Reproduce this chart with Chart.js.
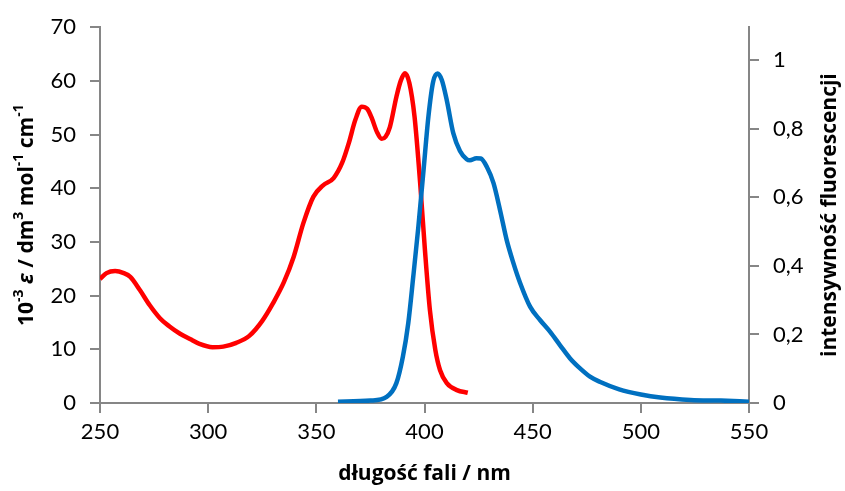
<!DOCTYPE html>
<html>
<head>
<meta charset="utf-8">
<script src="https://cdn.jsdelivr.net/npm/chart.js@4.4.1/dist/chart.umd.min.js"></script>
<style>
  body { margin: 0; background: #fff; }
  #wrap { width: 845px; height: 491px; }
</style>
</head>
<body>
<div id="wrap"><canvas id="chart" width="845" height="491"></canvas></div>
<script>
// absorption (left axis, 10^-3 eps)
const absWavelength = [250, 253, 257, 261, 264, 268.5, 273, 277.7, 282, 287, 291.6, 296, 302, 307, 313, 319, 325, 330, 335, 339.5, 344, 348.6, 353, 358, 362, 365, 368, 371, 373.5, 375.6, 378, 380.2, 382, 384, 387, 389, 391, 393, 395.4, 398, 400.2, 402.5, 405, 407.2, 410.3, 415, 420];
const absValues = [23.1, 24.2, 24.6, 24.2, 23.5, 21.0, 18.2, 15.8, 14.3, 12.9, 11.9, 11.0, 10.4, 10.5, 11.2, 12.5, 15.3, 18.6, 22.5, 27.2, 33.5, 38.4, 40.5, 41.9, 44.8, 48.4, 52.7, 55.2, 54.8, 53.1, 50.5, 49.2, 49.6, 51.4, 57.0, 60.0, 61.4, 59.6, 53.3, 40.9, 28.5, 17.3, 9.9, 6.1, 3.7, 2.4, 1.9];

// fluorescence (right axis, normalised)
const emWavelength = [360, 375, 382.5, 387, 390, 392.5, 394.8, 397.1, 399.5, 401.8, 404, 406, 408, 410.3, 413.3, 416.4, 419.5, 421, 424, 426, 428.8, 431.9, 434.9, 438, 441.1, 444.2, 448.8, 453.4, 458, 462.6, 467.3, 471.9, 476.5, 481, 490, 500, 509, 523, 537, 550];
const emValues = [0.004, 0.007, 0.018, 0.058, 0.135, 0.233, 0.368, 0.51, 0.675, 0.835, 0.937, 0.961, 0.942, 0.883, 0.787, 0.735, 0.711, 0.708, 0.714, 0.713, 0.689, 0.641, 0.563, 0.475, 0.408, 0.35, 0.281, 0.242, 0.208, 0.169, 0.130, 0.101, 0.077, 0.062, 0.040, 0.025, 0.016, 0.009, 0.007, 0.004];

const xTicks = [250, 300, 350, 400, 450, 500, 550];
const leftTicks = [0, 10, 20, 30, 40, 50, 60, 70];
const rightTicks = [0, 0.2, 0.4, 0.6, 0.8, 1];

const FONT = 'Lato, "Open Sans", sans-serif';
const TITLE_FONT = '"Open Sans", Lato, sans-serif';
const AXIS = '#868686';

function toPoints(xs, ys) {
    return xs.map((x, i) => ({ x: x, y: ys[i] }));
}

// rotated axis titles with superscripts / italic epsilon
function drawRich(ctx, parts, cx, cy) {
    ctx.save();
    ctx.translate(cx, cy);
    ctx.rotate(-Math.PI / 2);
    ctx.fillStyle = '#000';
    ctx.textBaseline = 'middle';
    ctx.textAlign = 'left';
    let total = 0;
    parts.forEach(p => {
        ctx.font = (p.italic ? 'italic ' : '') + 'bold ' + p.size + 'px ' + TITLE_FONT;
        p.w = ctx.measureText(p.t).width;
        total += p.w;
    });
    let x = -total / 2;
    parts.forEach(p => {
        ctx.font = (p.italic ? 'italic ' : '') + 'bold ' + p.size + 'px ' + TITLE_FONT;
        ctx.fillText(p.t, x, p.raise ? -p.raise : 0);
        x += p.w;
    });
    ctx.restore();
}

const titlePlugin = {
    id: 'axisTitles',
    afterDraw(chart) {
        const ctx = chart.ctx;
        const cy = (chart.chartArea.top + chart.chartArea.bottom) / 2;
        drawRich(ctx, [
            { t: '10', size: 21 },
            { t: '-3', size: 14, raise: 8 },
            { t: ' ', size: 21 },
            { t: 'ε', size: 21, italic: true },
            { t: ' / dm', size: 21 },
            { t: '3', size: 14, raise: 8 },
            { t: ' mol', size: 21 },
            { t: '-1', size: 14, raise: 8 },
            { t: ' cm', size: 21 },
            { t: '-1', size: 14, raise: 8 }
        ], 27, cy);
        drawRich(ctx, [{ t: 'intensywność fluorescencji', size: 21 }], 830, cy);
    }
};

new Chart(document.getElementById('chart').getContext('2d'), {
    type: 'line',
    data: {
        datasets: [{
            label: 'absorpcja',
            data: toPoints(absWavelength, absValues),
            yAxisID: 'y',
            borderColor: '#FF0000',
            borderWidth: 4.5,
            pointRadius: 0,
            cubicInterpolationMode: 'monotone',
            fill: false,
            order: 1
        }, {
            label: 'fluorescencja',
            data: toPoints(emWavelength, emValues),
            yAxisID: 'y1',
            borderColor: '#0070C0',
            borderWidth: 4.5,
            pointRadius: 0,
            cubicInterpolationMode: 'monotone',
            fill: false,
            order: 0
        }]
    },
    options: {
        responsive: false,
        animation: false,
        layout: { padding: { top: 27, left: 0, right: 0, bottom: 0 } },
        plugins: { legend: { display: false }, tooltip: { enabled: false } },
        scales: {
            x: {
                type: 'linear',
                min: 250,
                max: 550,
                afterBuildTicks: s => { s.ticks = xTicks.map(v => ({ value: v })); },
                ticks: { font: { family: FONT, size: 22 }, color: '#000', padding: 6, maxRotation: 0 },
                grid: { drawOnChartArea: false, tickLength: 10, color: AXIS, lineWidth: 2 },
                border: { color: AXIS, width: 2 },
                title: {
                    display: true,
                    text: 'długość fali / nm',
                    font: { family: TITLE_FONT, size: 21, weight: 'bold' },
                    color: '#000',
                    padding: { top: 10 }
                },
                afterFit: s => { s.height = 88; }
            },
            y: {
                position: 'left',
                min: 0,
                max: 70,
                afterBuildTicks: s => { s.ticks = leftTicks.map(v => ({ value: v })); },
                ticks: { font: { family: FONT, size: 22 }, color: '#000', padding: 14 },
                grid: { drawOnChartArea: false, tickLength: 10, color: AXIS, lineWidth: 2 },
                border: { color: AXIS, width: 2 },
                afterFit: s => { s.width = 100; }
            },
            y1: {
                position: 'right',
                min: 0,
                max: 1.096,
                afterBuildTicks: s => { s.ticks = rightTicks.map(v => ({ value: v })); },
                ticks: {
                    font: { family: FONT, size: 22 },
                    color: '#000',
                    padding: 14,
                    callback: v => String(Math.round(v * 10) / 10).replace('.', ',')
                },
                grid: { drawOnChartArea: false, tickLength: 10, color: AXIS, lineWidth: 2 },
                border: { color: AXIS, width: 2 },
                afterFit: s => { s.width = 96; }
            }
        }
    },
    plugins: [titlePlugin]
});
</script>
</body>
</html>
